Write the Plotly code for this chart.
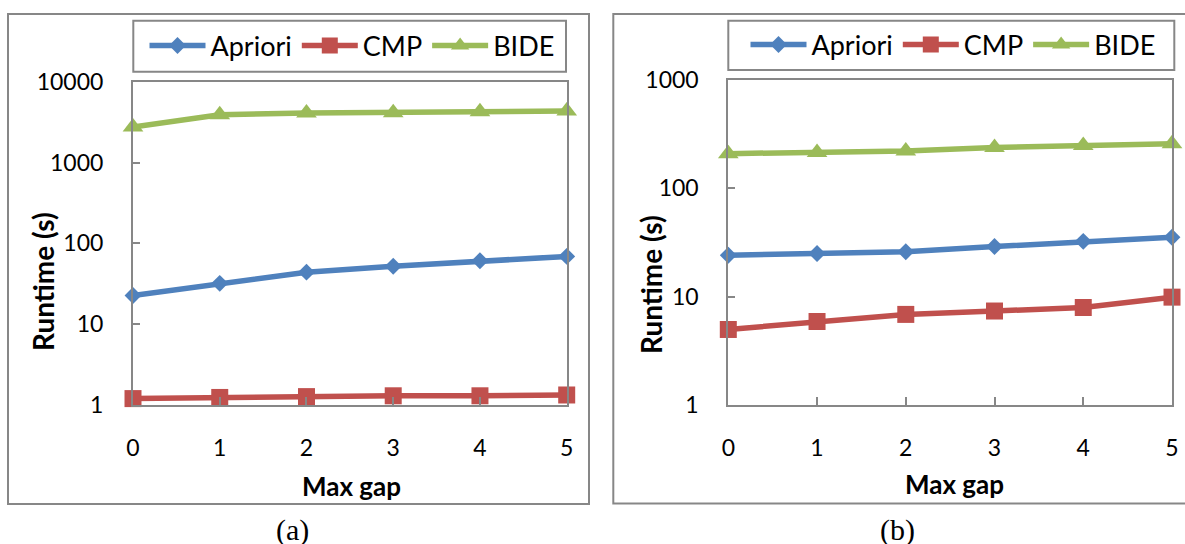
import plotly.graph_objects as go

W, H = 1185, 544

# ---- data ----
gaps = [0, 1, 2, 3, 4, 5]
series_names = ["Apriori", "CMP", "BIDE"]
a_apriori = [22.6, 32, 44, 52, 61, 69]
a_cmp = [1.20, 1.24, 1.27, 1.30, 1.30, 1.33]
a_bide = [2750, 3900, 4090, 4140, 4250, 4350]
b_apriori = [24.1, 25.0, 26.0, 29.0, 32.4, 35.4]
b_cmp = [4.98, 5.9, 6.86, 7.37, 7.94, 9.9]
b_bide = [209, 214, 221, 238, 249, 258]
y_ticks_a = [1, 10, 100, 1000, 10000]
y_ticks_b = [1, 10, 100, 1000]
captions = ["(a)", "(b)"]

# ---- style ----
colors = ["#4F81BD", "#C0504D", "#9BBB59"]
symbols = ["diamond", "square", "triangle-up"]
sizes = [13, 17, 18]
GRAY = "#878787"
FONT = "Lato"


def px(x):
    return x / W


def py(y):
    return 1 - y / H


fig = go.Figure()
for data, xa, ya, lg in [((a_apriori, a_cmp, a_bide), "x", "y", "legend"),
                         ((b_apriori, b_cmp, b_bide), "x2", "y2", "legend2")]:
    for i, vals in enumerate(data):
        fig.add_trace(go.Scatter(
            x=gaps, y=vals, name=series_names[i], mode="lines+markers",
            line=dict(color=colors[i], width=5.5),
            marker=dict(symbol=symbols[i], size=sizes[i], color=colors[i]),
            xaxis=xa, yaxis=ya, legend=lg, cliponaxis=False,
        ))

axis_common = dict(showgrid=False, zeroline=False, linecolor=GRAY, linewidth=2,
                   mirror=True, tickcolor=GRAY, tickwidth=1.5, ticks="inside",
                   automargin=False,
                   tickfont=dict(family=FONT, size=23, color="black"))

xcommon = dict(axis_common, range=[0, 5], tickvals=gaps, ticklen=8,
               ticklabelstandoff=21)
ycommon = dict(axis_common, type="log", ticklen=7,
               ticklabelstandoff=23, tickformat="d")

legend_font = dict(family=FONT, size=27, color="black")

fig.update_layout(
    width=W, height=H, margin=dict(l=0, r=0, t=0, b=0, pad=0, autoexpand=False),
    paper_bgcolor="white", plot_bgcolor="white",
    showlegend=True,
    xaxis=dict(xcommon, domain=[px(133), px(566.7)], anchor="y"),
    yaxis=dict(ycommon, domain=[py(405), py(81.7)], range=[0, 4],
               tickvals=y_ticks_a, anchor="x"),
    xaxis2=dict(xcommon, domain=[px(728.3), px(1172)], anchor="y2"),
    yaxis2=dict(ycommon, domain=[py(405), py(80)], range=[0, 3],
                tickvals=y_ticks_b, anchor="x2"),
    legend=dict(orientation="h", x=px(352), y=py(46), xanchor="center",
                yanchor="middle", bgcolor="rgba(0,0,0,0)", borderwidth=0,
                itemwidth=56, font=legend_font),
    legend2=dict(orientation="h", x=px(953), y=py(45), xanchor="center",
                 yanchor="middle", bgcolor="rgba(0,0,0,0)", borderwidth=0,
                 itemwidth=56, font=legend_font),
)

shapes = [
    # outer frames
    dict(type="rect", xref="paper", yref="paper", x0=px(8), x1=px(589), y0=py(504), y1=py(14),
         line=dict(color=GRAY, width=2)),
    dict(type="rect", xref="paper", yref="paper", x0=px(613.3), x1=px(1195), y0=py(503.5), y1=py(14),
         line=dict(color=GRAY, width=2)),
    # legend boxes
    dict(type="rect", xref="paper", yref="paper", x0=px(133.3), x1=px(566), y0=py(71.7), y1=py(20.7),
         line=dict(color=GRAY, width=2)),
    dict(type="rect", xref="paper", yref="paper", x0=px(728.3), x1=px(1174.3), y0=py(70), y1=py(20.7),
         line=dict(color=GRAY, width=2)),
]
fig.update_layout(shapes=shapes)

ann = []
for xc, yc in [(43, 281), (651, 285)]:
    ann.append(dict(text="<b>Runtime (s)</b>", x=px(xc), y=py(yc), xref="paper", yref="paper",
                    showarrow=False, textangle=-90, xanchor="center", yanchor="middle",
                    font=dict(family=FONT, size=28, color="black")))
for xc, yc in [(351, 486), (954, 484)]:
    ann.append(dict(text="<b>Max gap</b>", x=px(xc), y=py(yc), xref="paper", yref="paper",
                    showarrow=False, xanchor="center", yanchor="middle",
                    font=dict(family=FONT, size=26, color="black")))
for cap, xc in zip(captions, [292.5, 897]):
    ann.append(dict(text=cap, x=px(xc), y=py(530), xref="paper", yref="paper",
                    showarrow=False, xanchor="center", yanchor="middle",
                    font=dict(family="Liberation Serif", size=30, color="black")))
fig.update_layout(annotations=ann)

fig.write_html("out.html")
